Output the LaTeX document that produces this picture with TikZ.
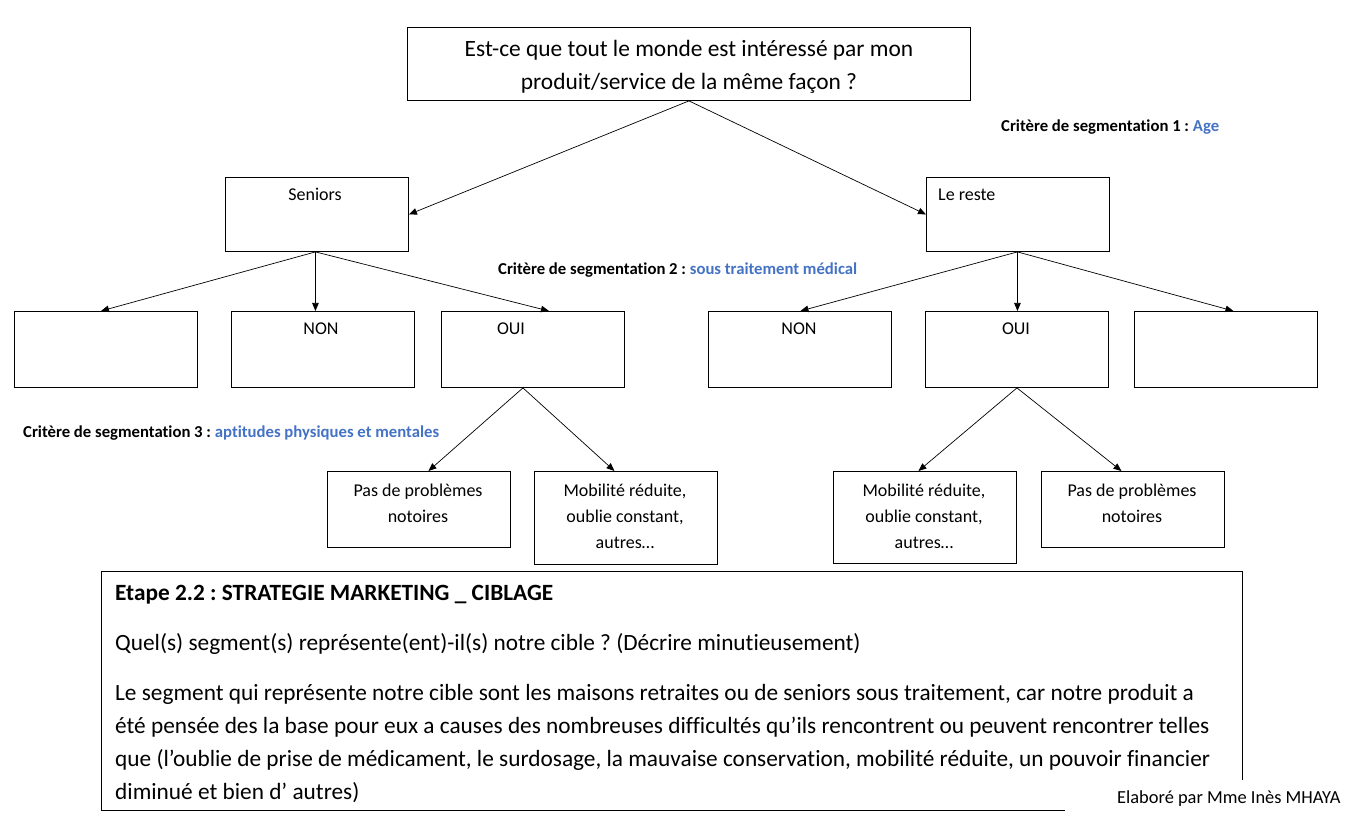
\documentclass[tikz,border=0pt]{standalone}
\usepackage{fontspec}
\setmainfont{Carlito}[Ligatures={NoCommon,NoRare}]
\usetikzlibrary{arrows.meta,calc}
\definecolor{critblue}{HTML}{4472C4}
\begin{document}
\frenchspacing
\begin{tikzpicture}[x=1pt,y=-1pt,
  box/.style={draw, line width=0.9pt, anchor=north west, inner sep=0pt, minimum width=183pt, minimum height=76pt},
  arr/.style={line width=0.7pt, -{Triangle[length=8pt,width=6.5pt]}},
  lbl/.style={inner sep=0pt, font=\fontsize{18}{26}\selectfont, align=center},
  crit/.style={inner sep=0pt, anchor=west, font=\fontsize{16.7}{20}\selectfont\bfseries},
  para/.style={inner sep=0pt, anchor=base west, align=left, font=\fontsize{23.3}{33}\selectfont}]
\useasboundingbox (0,0) rectangle (1368,818);
% top
\node[box, minimum width=563pt, minimum height=73pt] (top) at (407,27) {};
\node[inner sep=0pt, font=\fontsize{23.4}{33}\selectfont, align=center] (topt) at ($(top.center)+(0,3)$)
  {Est-ce que tout le monde est intéressé par mon\\produit/service de la même façon ?};
% level 1
\node[box, minimum height=74pt] (sen) at (225,177) {};
\node[lbl] (sent) at (315,194) {Seniors};
\node[box, minimum height=74pt] (res) at (926,177) {};
\node[lbl, anchor=west] (rest) at (938,195) {Le reste};
\node[crit] (c1) at (1001,127.5) {Critère de segmentation 1 : \textcolor{critblue}{Age}};
% level 2
\node[box] (a) at (14,311) {};
\node[box] (b) at (231,311) {};
\node[lbl] (bt) at (321,329) {NON};
\node[box] (c) at (441,311) {};
\node[lbl] (ct) at (511,329) {OUI};
\node[box] (d) at (708,311) {};
\node[lbl] (dt) at (799,329) {NON};
\node[box] (e) at (925,311) {};
\node[lbl] (et) at (1016,329) {OUI};
\node[box] (f) at (1134,311) {};
\node[crit] (c2) at (498,270.5) {Critère de segmentation 2 : \textcolor{critblue}{sous traitement médical}};
% level 3
\node[box] (g) at (327,471) {};
\node[lbl, anchor=north] (gt) at (418,483.5) {Pas de problèmes\\notoires};
\node[box, minimum height=93pt] (h) at (534,471) {};
\node[lbl, anchor=north] (ht) at (625,483.5) {Mobilité réduite,\\oublie constant,\\autres…};
\node[box, minimum height=92pt] (i) at (833,471) {};
\node[lbl, anchor=north] (it) at (924,483.5) {Mobilité réduite,\\oublie constant,\\autres…};
\node[box] (j) at (1041,471) {};
\node[lbl, anchor=north] (jt) at (1132,483.5) {Pas de problèmes\\notoires};
\node[crit] (c3) at (23,433.5) {Critère de segmentation 3 : \textcolor{critblue}{aptitudes physiques et mentales}};
% connectors
\draw[arr] (top.south) -- (sen.east);
\draw[arr] (top.south) -- (res.west);
\coordinate (sb) at ($(sen.south)+(-1.5,0)$);
\draw[arr] (sb) -- ($(a.north)+(-5,0)$);
\draw[arr] (sb) -- (sb |- b.north);
\draw[arr] (sb) -- ($(c.north)+(16,0)$);
\coordinate (rb) at ($(res.south)+(-0.5,0)$);
\draw[arr] (rb) -- ($(d.north)+(0.5,0)$);
\draw[arr] (rb) -- (rb |- e.north);
\draw[arr] (rb) -- ($(f.north)+(7.5,0)$);
\coordinate (cb) at ($(c.south)+(-10,0)$);
\draw[arr] (cb) -- ($(g.north)+(9.5,0)$);
\draw[arr] (cb) -- ($(h.north)+(-11.5,0)$);
\draw[arr] (e.south) -- ($(i.north)+(-6.5,0)$);
\draw[arr] (e.south) -- ($(j.north)+(-11.5,0)$);
% bottom box
\node[box, minimum width=1141pt, minimum height=239pt] (bot) at (101,571) {};
\node[para, font=\fontsize{23.3}{33}\selectfont\bfseries] (ttl) at (115,600) {Etape 2.2 : STRATEGIE MARKETING \_ CIBLAGE};
\node[para] (q) at (115,650) {Quel(s) segment(s) représente(ent)-il(s) notre cible ? (Décrire minutieusement)};
\node[para, anchor=north west] (p) at (115,684) {Le segment qui représente notre cible sont les maisons retraites ou de seniors sous traitement, car notre produit a\\été pensée des la base pour eux a causes des nombreuses difficultés qu’ils rencontrent ou peuvent rencontrer telles\\que (l’oublie de prise de médicament, le surdosage, la mauvaise conservation, mobilité réduite, un pouvoir financier\\diminué et bien d’ autres)};
\fill[white] (1065,780) rectangle (1368,818);
\node[inner sep=0pt, anchor=west, font=\fontsize{18.4}{22}\selectfont] (elab) at (1117,799) {Elaboré par Mme Inès MHAYA};
\end{tikzpicture}
\end{document}
